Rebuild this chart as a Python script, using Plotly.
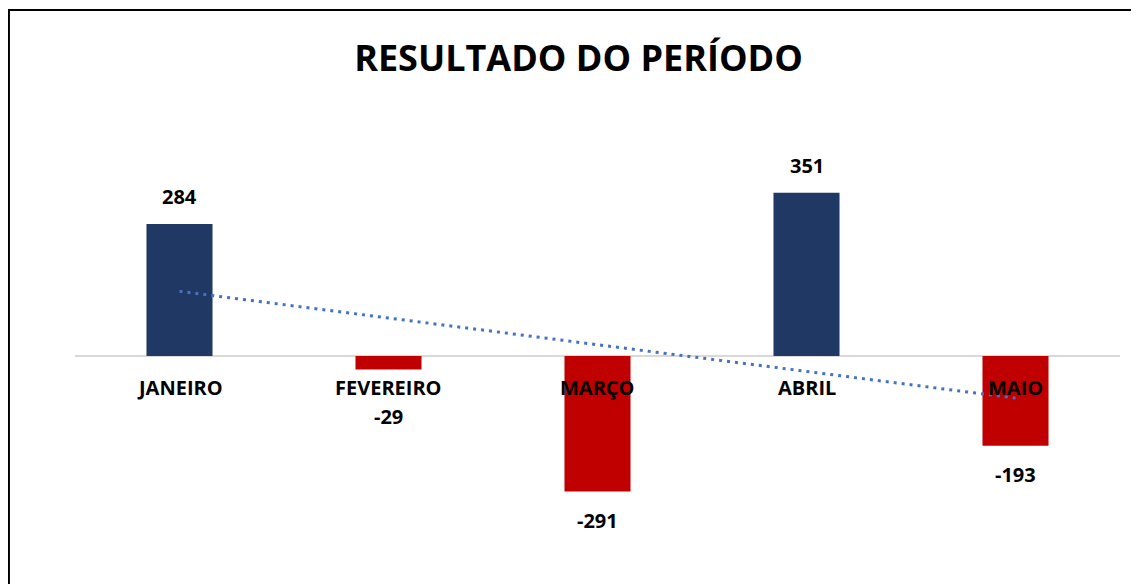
import numpy as np
import plotly.graph_objects as go

categories = ["JANEIRO", "FEVEREIRO", "MARÇO", "ABRIL", "MAIO"]
values = [284, -29, -291, 351, -193]
title_text = "RESULTADO DO PERÍODO"

POS_COLOR = "#203864"
NEG_COLOR = "#C00000"
TREND_COLOR = "#4472C4"
FONT = "Open Sans"

# linear trendline (least squares over category index, as Excel does)
idx = np.arange(1, len(values) + 1)
slope, intercept = np.polyfit(idx, values, 1)
trend = slope * idx + intercept

fig = go.Figure()
fig.add_trace(go.Bar(
    x=categories, y=values, width=0.316,
    marker=dict(color=[POS_COLOR if v >= 0 else NEG_COLOR for v in values], line=dict(width=0)),
    hoverinfo="skip", showlegend=False,
))
fig.add_trace(go.Scatter(
    x=categories, y=trend, mode="lines",
    line=dict(color=TREND_COLOR, width=3, dash="3px,5px"),
    hoverinfo="skip", showlegend=False,
))

annotations = []
for c, v in zip(categories, values):
    # category label at the zero line
    annotations.append(dict(x=c, y=0, xref="x", yref="y", text=f"<b>{c}</b>", showarrow=False,
                            yshift=-31, yanchor="middle",
                            font=dict(family=FONT, size=20, color="black")))
    # value label
    if v >= 0:
        y, ys = v, 27
    elif abs(v) < 60:
        y, ys = 0, -60
    else:
        y, ys = v, -29
    annotations.append(dict(x=c, y=y, xref="x", yref="y", text=f"<b>{v}</b>", showarrow=False,
                            yshift=ys, yanchor="middle",
                            font=dict(family=FONT, size=20, color="black")))

fig.update_layout(
    width=1139, height=584,
    margin=dict(l=67, r=27, t=122, b=8),
    paper_bgcolor="white", plot_bgcolor="white",
    title=dict(text=f"<b>{title_text}</b>", x=0.5009, xref="container", y=0.9144, yref="container",
               xanchor="center", yanchor="middle",
               font=dict(family=FONT, size=36, color="black")),
    xaxis=dict(showticklabels=False, showgrid=False, zeroline=False, showline=False,
               range=[-0.5, 4.5], fixedrange=True),
    yaxis=dict(showticklabels=False, showgrid=False, zeroline=True, zerolinecolor="#D9D9D9",
               zerolinewidth=2, range=[-490, 486], fixedrange=True),
    annotations=annotations,
    shapes=[dict(type="rect", xref="paper", yref="paper", x0=-0.0632, x1=1.1, y0=-0.2, y1=1.2643,
                 line=dict(color="black", width=2), fillcolor="rgba(0,0,0,0)", layer="above")],
)

fig.write_html("out.html")
